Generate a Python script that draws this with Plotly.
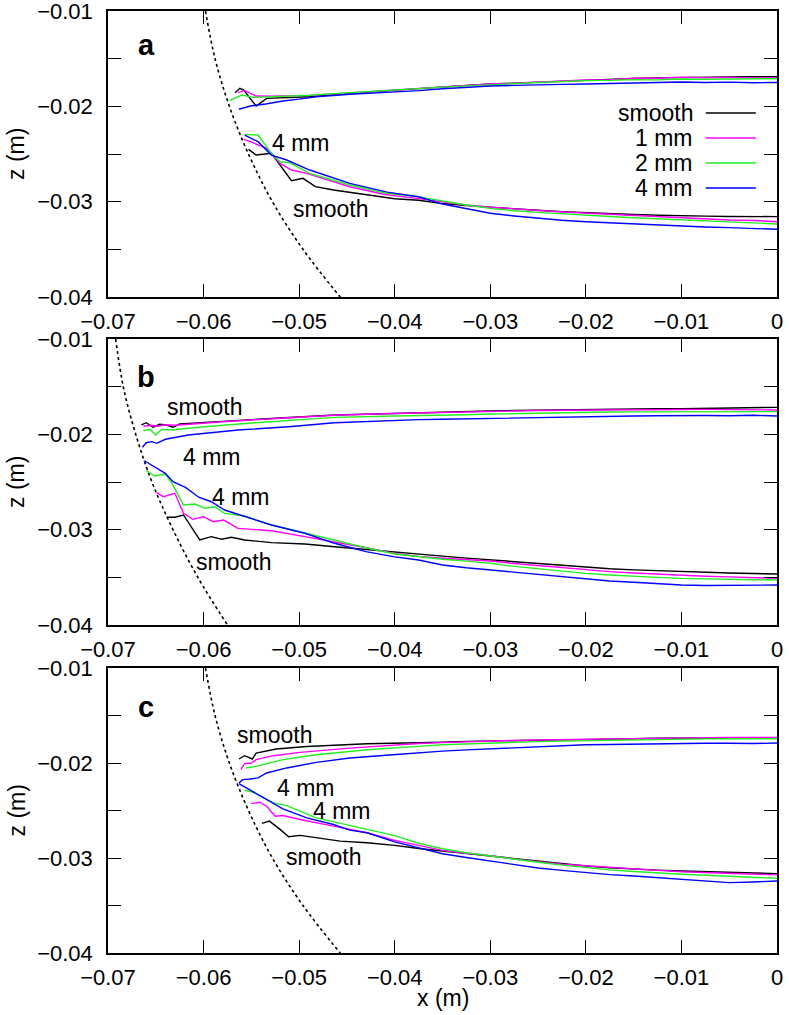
import plotly.graph_objects as go

# ---------------- data ----------------
SERIES = ["smooth", "1 mm", "2 mm", "4 mm"]
COLORS = ["#000000", "#ff00ff", "#22ee22", "#0000ff"]

# common x grid for the right-hand part of every curve
XR = [-0.0375, -0.035, -0.0325, -0.03, -0.0275, -0.025, -0.0225, -0.02,
      -0.0175, -0.015, -0.0125, -0.01, -0.0075, -0.005, -0.0025, 0.0]

X_TICKS = [-0.07, -0.06, -0.05, -0.04, -0.03, -0.02, -0.01, 0.0]
X_TICKTEXT = ["\u22120.07", "\u22120.06", "\u22120.05", "\u22120.04", "\u22120.03", "\u22120.02", "\u22120.01", "0"]
Z_TICKS = [-0.04, -0.035, -0.03, -0.025, -0.02, -0.015, -0.01]
Z_TICKTEXT = ["\u22120.04", "", "\u22120.03", "", "\u22120.02", "", "\u22120.01"]

# dotted boundary curves
BOUND_Z = [-0.01, -0.015, -0.02, -0.025, -0.03, -0.035, -0.04]
BOUND_A_X = [-0.0598, -0.0588, -0.0573, -0.0553, -0.0528, -0.0496, -0.0457]
BOUND_B_X = [-0.0692, -0.0684, -0.0671, -0.0654, -0.0632, -0.0606, -0.0575]
BOUND_C_X = [-0.0598, -0.0588, -0.0573, -0.0553, -0.0528, -0.0496, -0.0457]

# ---- panel a, upper branch (smooth, 1 mm, 2 mm, 4 mm) ----
A_UP_LX = [
    [-0.0567, -0.0562, -0.0558, -0.0545, -0.0534, -0.0510, -0.0489, -0.0460, -0.0430, -0.0400],
    [-0.0564, -0.0557, -0.0545, -0.0530, -0.0510, -0.0489, -0.0460, -0.0430, -0.0400],
    [-0.0573, -0.0560, -0.0548, -0.0530, -0.0510, -0.0489, -0.0460, -0.0430, -0.0400],
    [-0.0563, -0.0551, -0.0535, -0.0517, -0.0500, -0.0482, -0.0447, -0.0420, -0.0400],
]
A_UP_LZ = [
    [-0.01857, -0.01811, -0.01830, -0.01997, -0.01916, -0.01905, -0.01899, -0.01872, -0.01850, -0.01832],
    [-0.01857, -0.01836, -0.01892, -0.01895, -0.01888, -0.01885, -0.01868, -0.01848, -0.01830],
    [-0.01941, -0.01881, -0.01906, -0.01900, -0.01893, -0.01884, -0.01865, -0.01845, -0.01828],
    [-0.02031, -0.01997, -0.01975, -0.01944, -0.01925, -0.01899, -0.01874, -0.01860, -0.01848],
]
A_UP_RZ = [
    [-0.01812, -0.01797, -0.01780, -0.01766, -0.01756, -0.01744, -0.01733, -0.01724,
     -0.01716, -0.01708, -0.01701, -0.01696, -0.01693, -0.01691, -0.01690, -0.01689],
    [-0.01815, -0.01795, -0.01783, -0.01764, -0.01758, -0.01745, -0.01738, -0.01722,
     -0.01720, -0.01705, -0.01706, -0.01694, -0.01700, -0.01696, -0.01701, -0.01703],
    [-0.01815, -0.01798, -0.01785, -0.01770, -0.01762, -0.01750, -0.01740, -0.01730,
     -0.01728, -0.01720, -0.01722, -0.01713, -0.01716, -0.01712, -0.01715, -0.01710],
    [-0.01835, -0.01815, -0.01800, -0.01787, -0.01780, -0.01772, -0.01770, -0.01766,
     -0.01760, -0.01755, -0.01752, -0.01745, -0.01750, -0.01746, -0.01752, -0.01750],
]

# ---- panel a, lower branch ----
A_LO_LX = [
    [-0.0553, -0.0545, -0.0529, -0.0520, -0.0508, -0.0496, -0.0483, -0.0464, -0.0429, -0.0400],
    [-0.0558, -0.0551, -0.0534, -0.0520, -0.0508, -0.0492, -0.0447, -0.0410],
    [-0.0557, -0.0543, -0.0529, -0.0520, -0.0510, -0.0489, -0.0447, -0.0410],
    [-0.0557, -0.0543, -0.0529, -0.0513, -0.0489, -0.0447, -0.0408],
]
A_LO_LZ = [
    [-0.02451, -0.02511, -0.02493, -0.02615, -0.02780, -0.02755, -0.02843, -0.02878, -0.02930, -0.02970],
    [-0.02346, -0.02371, -0.02441, -0.02598, -0.02668, -0.02703, -0.02843, -0.02925],
    [-0.02294, -0.02301, -0.02493, -0.02581, -0.02591, -0.02703, -0.02825, -0.02910],
    [-0.02301, -0.02371, -0.02511, -0.02563, -0.02668, -0.02808, -0.02900],
]
A_LO_RZ = [
    [-0.02985, -0.03020, -0.03042, -0.03060, -0.03075, -0.03090, -0.03104, -0.03116,
     -0.03126, -0.03135, -0.03143, -0.03150, -0.03152, -0.03155, -0.03156, -0.03157],
    [-0.02968, -0.03005, -0.03035, -0.03058, -0.03078, -0.03092, -0.03108, -0.03120,
     -0.03135, -0.03150, -0.03162, -0.03175, -0.03180, -0.03192, -0.03198, -0.03210],
    [-0.02950, -0.02995, -0.03035, -0.03070, -0.03095, -0.03112, -0.03128, -0.03140,
     -0.03155, -0.03168, -0.03180, -0.03192, -0.03205, -0.03215, -0.03222, -0.03234],
    [-0.02948, -0.03025, -0.03075, -0.03122, -0.03150, -0.03175, -0.03195, -0.03210,
     -0.03222, -0.03235, -0.03245, -0.03255, -0.03265, -0.03272, -0.03280, -0.03290],
]

# ---- panel b, upper branch ----
B_UP_LX = [
    [-0.0665, -0.0660, -0.0653, -0.0646, -0.0639, -0.0632, -0.0625, -0.0580, -0.0520, -0.0463, -0.0400],
    [-0.0663, -0.0655, -0.0648, -0.0640, -0.0630, -0.0580, -0.0520, -0.0463, -0.0400],
    [-0.0663, -0.0656, -0.0650, -0.0644, -0.0633, -0.0599, -0.0546, -0.0463, -0.0400],
    [-0.0664, -0.0660, -0.0654, -0.0649, -0.0640, -0.0616, -0.0564, -0.0511, -0.0463, -0.0400],
]
B_UP_LZ = [
    [-0.01902, -0.01878, -0.01926, -0.01895, -0.01902, -0.01926, -0.01892, -0.01862, -0.01828, -0.01797, -0.01778],
    [-0.01915, -0.01905, -0.01915, -0.01900, -0.01905, -0.01868, -0.01832, -0.01800, -0.01782],
    [-0.01962, -0.01948, -0.02007, -0.01948, -0.01955, -0.01920, -0.01878, -0.01822, -0.01808],
    [-0.02136, -0.02088, -0.02077, -0.02094, -0.02052, -0.02007, -0.01955, -0.01920, -0.01878, -0.01850],
]
B_UP_RZ = [
    [-0.01772, -0.01768, -0.01760, -0.01755, -0.01750, -0.01746, -0.01742, -0.01738,
     -0.01736, -0.01733, -0.01732, -0.01731, -0.01728, -0.01724, -0.01720, -0.01717],
    [-0.01776, -0.01770, -0.01765, -0.01760, -0.01752, -0.01750, -0.01748, -0.01745,
     -0.01742, -0.01740, -0.01738, -0.01740, -0.01738, -0.01740, -0.01742, -0.01745],
    [-0.01806, -0.01800, -0.01795, -0.01787, -0.01782, -0.01776, -0.01770, -0.01766,
     -0.01765, -0.01764, -0.01763, -0.01762, -0.01762, -0.01763, -0.01762, -0.01762],
    [-0.01846, -0.01842, -0.01837, -0.01832, -0.01828, -0.01822, -0.01818, -0.01815,
     -0.01812, -0.01808, -0.01805, -0.01801, -0.01803, -0.01805, -0.01800, -0.01808],
]

# ---- panel b, lower branch ----
B_LO_LX = [
    [-0.0638, -0.0630, -0.0621, -0.0604, -0.0592, -0.0581, -0.0571, -0.0557, -0.0529, -0.0494, -0.0463, -0.0430, -0.0400],
    [-0.0649, -0.0642, -0.0630, -0.0621, -0.0611, -0.0600, -0.0590, -0.0579, -0.0564, -0.0529, -0.0494, -0.0463, -0.0430, -0.0400],
    [-0.0660, -0.0651, -0.0640, -0.0633, -0.0621, -0.0609, -0.0599, -0.0588, -0.0578, -0.0557, -0.0529, -0.0494, -0.0463, -0.0430, -0.0400],
    [-0.0662, -0.0651, -0.0640, -0.0632, -0.0619, -0.0605, -0.0592, -0.0578, -0.0557, -0.0529, -0.0494, -0.0463, -0.0430, -0.0400],
]
B_LO_LZ = [
    [-0.02870, -0.02870, -0.02846, -0.03108, -0.03073, -0.03101, -0.03080, -0.03108, -0.03136, -0.03150, -0.03179, -0.03210, -0.03238],
    [-0.02612, -0.02654, -0.02619, -0.02829, -0.02892, -0.02864, -0.02916, -0.02899, -0.02986, -0.03011, -0.03073, -0.03126, -0.03190, -0.03250],
    [-0.02381, -0.02437, -0.02416, -0.02514, -0.02741, -0.02731, -0.02776, -0.02759, -0.02829, -0.02857, -0.02951, -0.03038, -0.03108, -0.03190, -0.03255],
    [-0.02277, -0.02340, -0.02409, -0.02497, -0.02556, -0.02660, -0.02707, -0.02794, -0.02864, -0.02951, -0.03038, -0.03143, -0.03230, -0.03285],
]
B_LO_RZ = [
    [-0.03260, -0.03278, -0.03298, -0.03318, -0.03338, -0.03355, -0.03375, -0.03395,
     -0.03410, -0.03422, -0.03432, -0.03441, -0.03448, -0.03455, -0.03460, -0.03465],
    [-0.03280, -0.03300, -0.03315, -0.03329, -0.03355, -0.03378, -0.03400, -0.03423,
     -0.03440, -0.03455, -0.03468, -0.03476, -0.03488, -0.03495, -0.03505, -0.03511],
    [-0.03285, -0.03310, -0.03330, -0.03353, -0.03385, -0.03410, -0.03435, -0.03458,
     -0.03475, -0.03490, -0.03500, -0.03511, -0.03518, -0.03520, -0.03525, -0.03528],
    [-0.03318, -0.03371, -0.03400, -0.03423, -0.03445, -0.03470, -0.03498, -0.03521,
     -0.03538, -0.03552, -0.03568, -0.03581, -0.03585, -0.03583, -0.03586, -0.03581],
]

# ---- panel c, upper branch ----
C_UP_LX = [
    [-0.0563, -0.0557, -0.0549, -0.0545, -0.0524, -0.0492, -0.0429, -0.0400],
    [-0.0561, -0.0557, -0.0550, -0.0545, -0.0527, -0.0499, -0.0447, -0.0400],
    [-0.0556, -0.0545, -0.0517, -0.0482, -0.0429, -0.0400],
    [-0.0563, -0.0559, -0.0551, -0.0543, -0.0534, -0.0513, -0.0482, -0.0447, -0.0402],
]
C_UP_LZ = [
    [-0.01958, -0.01923, -0.01958, -0.01895, -0.01853, -0.01826, -0.01797, -0.01792],
    [-0.02070, -0.02007, -0.02000, -0.01965, -0.01923, -0.01888, -0.01843, -0.01808],
    [-0.02052, -0.02035, -0.01965, -0.01913, -0.01860, -0.01838],
    [-0.02210, -0.02175, -0.02168, -0.02157, -0.02105, -0.02052, -0.01993, -0.01948, -0.01913],
]
C_UP_RZ = [
    [-0.01790, -0.01782, -0.01772, -0.01766, -0.01762, -0.01760, -0.01757, -0.01755,
     -0.01750, -0.01745, -0.01740, -0.01738, -0.01737, -0.01738, -0.01737, -0.01738],
    [-0.01795, -0.01786, -0.01776, -0.01768, -0.01762, -0.01758, -0.01755, -0.01752,
     -0.01748, -0.01742, -0.01736, -0.01733, -0.01734, -0.01730, -0.01732, -0.01731],
    [-0.01825, -0.01808, -0.01798, -0.01790, -0.01783, -0.01775, -0.01770, -0.01766,
     -0.01760, -0.01753, -0.01748, -0.01745, -0.01746, -0.01744, -0.01745, -0.01745],
    [-0.01892, -0.01875, -0.01862, -0.01850, -0.01840, -0.01828, -0.01818, -0.01808,
     -0.01805, -0.01800, -0.01796, -0.01794, -0.01792, -0.01792, -0.01795, -0.01790],
]

# ---- panel c, lower branch ----
C_LO_LX = [
    [-0.0539, -0.0531, -0.0520, -0.0511, -0.0499, -0.0482, -0.0457, -0.0429, -0.0400],
    [-0.0550, -0.0541, -0.0534, -0.0525, -0.0517, -0.0499, -0.0464, -0.0429, -0.0400],
    [-0.0557, -0.0548, -0.0527, -0.0513, -0.0482, -0.0447, -0.0400],
    [-0.0563, -0.0551, -0.0534, -0.0517, -0.0492, -0.0464, -0.0447, -0.0429, -0.0400],
]
C_LO_LZ = [
    [-0.02636, -0.02612, -0.02699, -0.02776, -0.02762, -0.02786, -0.02822, -0.02839, -0.02867],
    [-0.02427, -0.02413, -0.02455, -0.02560, -0.02553, -0.02595, -0.02665, -0.02734, -0.02815],
    [-0.02287, -0.02308, -0.02420, -0.02448, -0.02577, -0.02657, -0.02765],
    [-0.02217, -0.02287, -0.02385, -0.02482, -0.02577, -0.02647, -0.02707, -0.02734, -0.02830],
]
C_LO_RZ = [
    [-0.02900, -0.02927, -0.02955, -0.02979, -0.03008, -0.03035, -0.03060, -0.03084,
     -0.03102, -0.03118, -0.03128, -0.03137, -0.03145, -0.03152, -0.03158, -0.03164],
    [-0.02870, -0.02920, -0.02950, -0.02975, -0.03012, -0.03042, -0.03065, -0.03082,
     -0.03100, -0.03115, -0.03130, -0.03145, -0.03155, -0.03165, -0.03172, -0.03178],
    [-0.02845, -0.02902, -0.02945, -0.02979, -0.03015, -0.03045, -0.03075, -0.03102,
     -0.03125, -0.03142, -0.03158, -0.03171, -0.03182, -0.03192, -0.03205, -0.03213],
    [-0.02895, -0.02955, -0.02995, -0.03032, -0.03075, -0.03105, -0.03130, -0.03154,
     -0.03175, -0.03190, -0.03208, -0.03224, -0.03240, -0.03259, -0.03252, -0.03242],
]

# ---------------- figure ----------------
FONT = "Liberation Sans, Arial, Helvetica, sans-serif"
FS = 23
TFS = 22
W, H = 789, 1015
ML, MR, MT, MB = 108, 12, 11, 62
PH = H - MT - MB
DOMAINS = [
    [(953 - 297) / PH, 1.0],
    [(953 - 625) / PH, (953 - 339) / PH],
    [0.0, (953 - 668) / PH],
]

fig = go.Figure()

panels = [
    ("", "", BOUND_A_X, [(A_UP_LX, A_UP_LZ, A_UP_RZ), (A_LO_LX, A_LO_LZ, A_LO_RZ)]),
    ("2", "2", BOUND_B_X, [(B_UP_LX, B_UP_LZ, B_UP_RZ), (B_LO_LX, B_LO_LZ, B_LO_RZ)]),
    ("3", "3", BOUND_C_X, [(C_UP_LX, C_UP_LZ, C_UP_RZ), (C_LO_LX, C_LO_LZ, C_LO_RZ)]),
]

for xs, ys, bx, branches in panels:
    xa, ya = "x" + xs, "y" + ys
    fig.add_trace(go.Scatter(x=bx, y=BOUND_Z, xaxis=xa, yaxis=ya, mode="lines",
                             line=dict(color="black", width=1.6, dash="dot", shape="spline"),
                             showlegend=False, hoverinfo="skip"))
    for i in range(4):
        for lx, lz, rz in branches:
            fig.add_trace(go.Scatter(x=lx[i] + XR, y=lz[i] + rz[i], xaxis=xa, yaxis=ya,
                                     mode="lines", line=dict(color=COLORS[i], width=1.4),
                                     name=SERIES[i], showlegend=False))

axis_common = dict(showline=True, linecolor="black", linewidth=1.5, mirror="ticks",
                   ticks="inside", ticklen=13, tickwidth=1.2, tickcolor="black",
                   showgrid=False, zeroline=False, automargin=False,
                   ticklabeloverflow="allow",
                   tickfont=dict(family=FONT, size=TFS, color="black"))

layout = dict(width=W, height=H, margin=dict(l=ML, r=MR, t=MT, b=MB, autoexpand=False),
              paper_bgcolor="white", plot_bgcolor="white", showlegend=False,
              font=dict(family=FONT, size=FS, color="black"))
for k, (xs, ys) in enumerate([("", ""), ("2", "2"), ("3", "3")]):
    layout["xaxis" + xs] = dict(axis_common, range=[-0.07, 0.0], tickvals=X_TICKS,
                                ticktext=X_TICKTEXT, anchor="y" + ys, ticklabelstandoff=4)
    layout["yaxis" + ys] = dict(axis_common, range=[-0.04, -0.01], tickvals=Z_TICKS,
                                ticktext=Z_TICKTEXT, anchor="x" + xs, domain=DOMAINS[k],
                                ticklabelstandoff=9)
fig.update_layout(**layout)

ann = []
def txt(s, x, y, xs="", size=FS, bold=False, xanchor="center"):
    ann.append(dict(text="<b>%s</b>" % s if bold else s, x=x, y=y, xref="x" + xs, yref="y" + xs,
                    showarrow=False, xanchor=xanchor, yanchor="middle",
                    font=dict(family=FONT, size=size, color="black")))

# panel letters
txt("a", -0.0660, -0.01357, "", 29, True)
txt("b", -0.0660, -0.01395, "2", 29, True)
txt("c", -0.0660, -0.01406, "3", 29, True)
# curve labels
txt("4 mm", -0.0498, -0.02385, "")
txt("smooth", -0.0467, -0.03077, "")
txt("smooth", -0.0599, -0.0171, "2")
txt("4 mm", -0.0591, -0.02235, "2")
txt("4 mm", -0.0561, -0.02654, "2")
txt("smooth", -0.0569, -0.03336, "2")
txt("smooth", -0.0526, -0.01703, "3")
txt("4 mm", -0.0493, -0.02262, "3")
txt("4 mm", -0.0455, -0.02507, "3")
txt("smooth", -0.0475, -0.0299, "3")

# legend (panel a)
LEG_Z = [-0.0207, -0.02332, -0.02594, -0.02857]
shapes = []
for i in range(4):
    txt(SERIES[i], -0.0086, LEG_Z[i], "", FS, False, "right")
    shapes.append(dict(type="line", xref="x", yref="y", x0=-0.00745, x1=-0.00222,
                       y0=LEG_Z[i], y1=LEG_Z[i], line=dict(color=COLORS[i], width=1.4)))

# axis titles
PW = W - ML - MR
for k in range(3):
    yc = (DOMAINS[k][0] + DOMAINS[k][1]) / 2
    ann.append(dict(text="z (m)", x=(16 - ML) / PW, y=yc, xref="paper", yref="paper",
                    showarrow=False, textangle=-90, xanchor="center", yanchor="middle",
                    font=dict(family=FONT, size=FS, color="black")))
ann.append(dict(text="x (m)", x=0.5, y=(953 - 998) / PH, xref="paper", yref="paper",
                showarrow=False, xanchor="center", yanchor="middle",
                font=dict(family=FONT, size=FS, color="black")))

fig.update_layout(annotations=ann, shapes=shapes)
fig.write_html("out.html", config={"displayModeBar": False},
               post_script="document.body.style.margin='0';document.body.style.padding='0';"
                           "document.body.style.overflow='hidden';")
